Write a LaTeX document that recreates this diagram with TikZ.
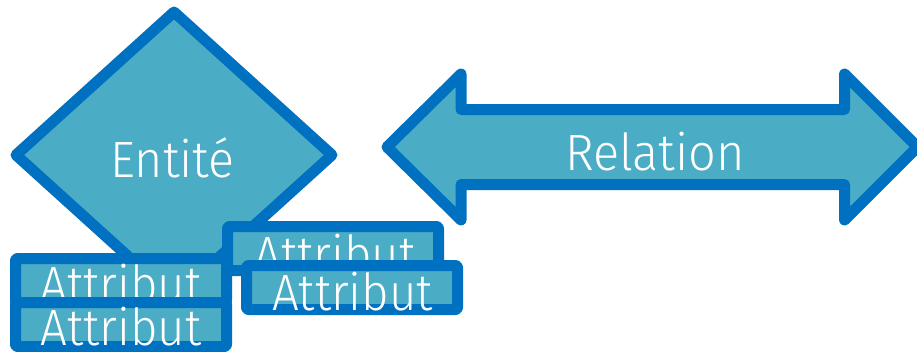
\documentclass[tikz,border=0pt]{standalone}
\usepackage{fontspec}
\usepackage{graphicx}
\setmainfont{Fira Sans}[UprightFont={* Light}]
\definecolor{fillc}{HTML}{4BACC6}
\definecolor{linec}{HTML}{0070C0}
\newcommand{\attrtext}{\scalebox{0.93}[1]{Attribut}}
\begin{document}
\begin{tikzpicture}[x=1pt,y=-1pt,
  shapestyle/.style={fill=fillc,draw=linec,line width=11pt,line join=round},
  attrbox/.style={shapestyle,rounded corners=2pt,minimum width=211pt,minimum height=44pt,inner sep=0pt},
  lbl/.style={text=white,font=\fontsize{51}{51}\selectfont,inner sep=0pt,anchor=base}]
\useasboundingbox (0,0) rectangle (917,351);
% diamond
\coordinate (dl) at (16,155);
\coordinate (dt) at (174,12);
\coordinate (dr) at (332,155);
\coordinate (db) at (174,298);
\draw[shapestyle] (dl) -- (dt) -- (dr) -- (db) -- cycle;
\node[lbl] (entite) at (172.5,177) {\scalebox{0.95}[1]{Entité}};
% double arrow
\draw[shapestyle] (387,147) -- (461,74) -- (461,109.5) -- (844.5,109.5) -- (844.5,74)
  -- (917.5,147) -- (844.5,220) -- (844.5,184.5) -- (461,184.5) -- (461,220) -- cycle;
\node[lbl] (relation) at (655,170) {\scalebox{0.955}[1]{Relation}};
% attributes
\node[attrbox] (a1) at (333,248.5) {};
\node[lbl] (t1) at (335,272) {\attrtext};
\node[attrbox] (a2) at (352,287.5) {};
\node[lbl] (t2) at (352.5,310) {\attrtext};
\node[attrbox] (a3) at (121,280.5) {};
\node[lbl] (t3) at (121,302) {\attrtext};
\node[attrbox] (a4) at (121,324.5) {};
\node[lbl] (t4) at (121,345) {\attrtext};
\end{tikzpicture}
\end{document}
